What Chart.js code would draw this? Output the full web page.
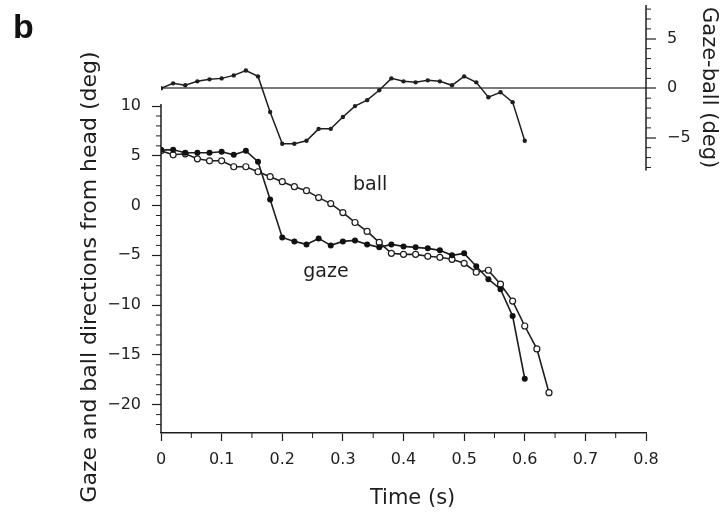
<!DOCTYPE html>
<html>
<head>
<meta charset="utf-8">
<title>Gaze and ball directions</title>
<script src="https://cdn.jsdelivr.net/npm/chart.js@4.4.1/dist/chart.umd.min.js"></script>
<style>
  html, body { margin: 0; padding: 0; background: #fff; }
</style>
</head>
<body>
<canvas id="gazeChart" width="721" height="513"></canvas>
<script>
// sample times (s), one sample every 20 ms
var times = [0, 0.02, 0.04, 0.06, 0.08, 0.10, 0.12, 0.14, 0.16, 0.18,
             0.20, 0.22, 0.24, 0.26, 0.28, 0.30, 0.32, 0.34, 0.36, 0.38,
             0.40, 0.42, 0.44, 0.46, 0.48, 0.50, 0.52, 0.54, 0.56, 0.58,
             0.60, 0.62, 0.64];

// gaze direction from head (deg), filled dots
var gaze = [5.6, 5.6, 5.3, 5.3, 5.3, 5.4, 5.1, 5.5, 4.4, 0.6,
            -3.2, -3.6, -3.9, -3.3, -4.0, -3.6, -3.5, -3.9, -4.2, -3.9,
            -4.1, -4.2, -4.3, -4.5, -5.0, -4.8, -6.1, -7.4, -8.4, -11.1,
            -17.4];

// ball direction from head (deg), open circles
var ball = [5.5, 5.1, 5.2, 4.7, 4.5, 4.5, 3.9, 3.9, 3.4, 2.9,
            2.4, 1.9, 1.5, 0.8, 0.2, -0.7, -1.7, -2.6, -3.7, -4.8,
            -4.9, -4.9, -5.1, -5.2, -5.4, -5.8, -6.7, -6.5, -7.9, -9.6,
            -12.1, -14.4, -18.8];

// gaze minus ball (deg), right hand axis
var gazeBall = [0.0, 0.5, 0.3, 0.7, 0.9, 1.0, 1.3, 1.8, 1.2, -2.4,
                -5.6, -5.6, -5.3, -4.1, -4.1, -2.9, -1.8, -1.2, -0.2, 1.0,
                0.7, 0.6, 0.8, 0.7, 0.3, 1.2, 0.6, -0.9, -0.4, -1.4,
                -5.3];

var xTicks = [0, 0.1, 0.2, 0.3, 0.4, 0.5, 0.6, 0.7, 0.8];
var leftTicks = [-20, -15, -10, -5, 0, 5, 10];
var rightTicks = [-5, 0, 5];

var curveNames = ['ball', 'gaze'];
var curveNameTimes = [0.345, 0.272];
var curveNameValues = [2.1, -6.7];

var fontFamily = "'DejaVu Sans', 'Liberation Sans', sans-serif";
var ink = '#1e1e1e';

function toPoints(values) {
    return values.map(function (v, i) { return { x: times[i], y: v }; });
}

function signed(v) {
    return v < 0 ? '\u2212' + Math.abs(v) : String(v);
}

// labels must not push the plot area in
function noEdgePadding(scale) {
    scale.paddingTop = 0;
    scale.paddingBottom = 0;
    scale.paddingLeft = 0;
    scale.paddingRight = 0;
}

// axis lines, minor ticks and free text
var extrasPlugin = {
    id: 'extras',
    afterDraw: function (chart) {
        var c = chart.ctx;
        var sx = chart.scales.x, sy = chart.scales.y, s2 = chart.scales.y2;
        var xl = sx.getPixelForValue(0), xr = sx.getPixelForValue(0.8);
        var yb = sy.getPixelForValue(sy.min);
        function seg(x1, y1, x2, y2) {
            c.beginPath(); c.moveTo(x1, y1); c.lineTo(x2, y2); c.stroke();
        }
        c.save();
        c.strokeStyle = ink;
        c.lineWidth = 1.5;
        seg(xl, yb, xl, sy.getPixelForValue(10.2));
        seg(xr, s2.getPixelForValue(-8.3), xr, s2.getPixelForValue(8.4));

        c.lineWidth = 1;
        var v;
        for (v = -22; v <= 10; v++) {
            if (v % 5 !== 0) { var py = sy.getPixelForValue(v); seg(xl - 5, py, xl, py); }
        }
        for (v = -8; v <= 8; v++) {
            if (v % 5 !== 0) { var py2 = s2.getPixelForValue(v); seg(xr, py2, xr + 5, py2); }
        }
        for (v = 1; v < 16; v += 2) {
            var px = sx.getPixelForValue(v * 0.05); seg(px, yb, px, yb + 5);
        }

        c.fillStyle = ink;
        c.textAlign = 'center';
        c.textBaseline = 'middle';
        c.font = '19px ' + fontFamily;
        curveNames.forEach(function (name, i) {
            c.fillText(name, sx.getPixelForValue(curveNameTimes[i]), sy.getPixelForValue(curveNameValues[i]));
        });

        c.font = '21px ' + fontFamily;
        c.fillText('Time (s)', sx.getPixelForValue(0.415), 499);

        c.save();
        c.translate(90, 277);
        c.rotate(-Math.PI / 2);
        c.font = '22px ' + fontFamily;
        c.fillText('Gaze and ball directions from head (deg)', 0, 0);
        c.restore();

        c.textAlign = 'left';
        c.textBaseline = 'alphabetic';
        c.font = "bold 34px 'Liberation Sans', Arial, sans-serif";
        c.fillStyle = '#111';
        c.fillText('b', 13, 38);
        c.restore();
    }
};

Chart.defaults.font.family = fontFamily;
Chart.defaults.color = ink;

var ctx = document.getElementById('gazeChart').getContext('2d');
var gazeChart = new Chart(ctx, {
    type: 'line',
    data: {
        datasets: [{
            label: 'Gaze-ball',
            data: toPoints(gazeBall),
            yAxisID: 'y2',
            borderColor: ink,
            borderWidth: 1.5,
            pointRadius: 2.2,
            pointBackgroundColor: ink,
            pointBorderWidth: 0
        }, {
            label: 'gaze',
            data: toPoints(gaze),
            yAxisID: 'y',
            borderColor: ink,
            borderWidth: 1.6,
            pointRadius: 3,
            pointBackgroundColor: '#111',
            pointBorderColor: '#111',
            pointBorderWidth: 0
        }, {
            label: 'ball',
            data: toPoints(ball),
            yAxisID: 'y',
            borderColor: ink,
            borderWidth: 1.6,
            pointRadius: 3,
            pointBackgroundColor: '#fff',
            pointBorderColor: ink,
            pointBorderWidth: 1.2
        }]
    },
    options: {
        responsive: false,
        animation: false,
        layout: { padding: { top: 7, left: 0, right: 0, bottom: 0 } },
        plugins: {
            legend: { display: false },
            tooltip: { enabled: false }
        },
        scales: {
            x: {
                type: 'linear',
                min: 0,
                max: 0.8,
                afterBuildTicks: function (scale) {
                    scale.ticks = xTicks.map(function (v) { return { value: v }; });
                },
                afterFit: function (scale) { scale.height = 80; noEdgePadding(scale); },
                ticks: {
                    font: { size: 16 },
                    padding: 9,
                    maxRotation: 0,
                    callback: function (v) { return String(v); }
                },
                grid: { drawOnChartArea: false, tickLength: 8, tickColor: ink, tickWidth: 1.2 },
                border: { color: ink, width: 1.5 }
            },
            y: {
                position: 'left',
                min: -22.85,
                max: 19.95,
                afterBuildTicks: function (scale) {
                    scale.ticks = leftTicks.map(function (v) { return { value: v }; });
                },
                afterFit: function (scale) { scale.width = 161; noEdgePadding(scale); },
                ticks: {
                    font: { size: 16 },
                    padding: 11,
                    callback: signed
                },
                grid: { drawOnChartArea: false, tickLength: 9, tickColor: ink, tickWidth: 1.2 },
                border: { display: false }
            },
            y2: {
                position: 'right',
                min: -34.82,
                max: 8.21,
                afterBuildTicks: function (scale) {
                    scale.ticks = rightTicks.map(function (v) { return { value: v }; });
                },
                afterFit: function (scale) { scale.width = 75; noEdgePadding(scale); },
                ticks: {
                    font: { size: 16 },
                    padding: 11,
                    callback: signed
                },
                grid: {
                    drawOnChartArea: true,
                    color: function (c) {
                        return c.tick && c.tick.value === 0 ? '#7a7a7a' : 'rgba(0,0,0,0)';
                    },
                    lineWidth: 2,
                    tickLength: 10,
                    tickColor: ink,
                    tickWidth: 1.2
                },
                border: { display: false },
                title: {
                    display: true,
                    text: 'Gaze-ball (deg)',
                    align: 'end',
                    font: { size: 21 },
                    padding: { top: 0, bottom: 0 }
                }
            }
        }
    },
    plugins: [extrasPlugin]
});
</script>
</body>
</html>
